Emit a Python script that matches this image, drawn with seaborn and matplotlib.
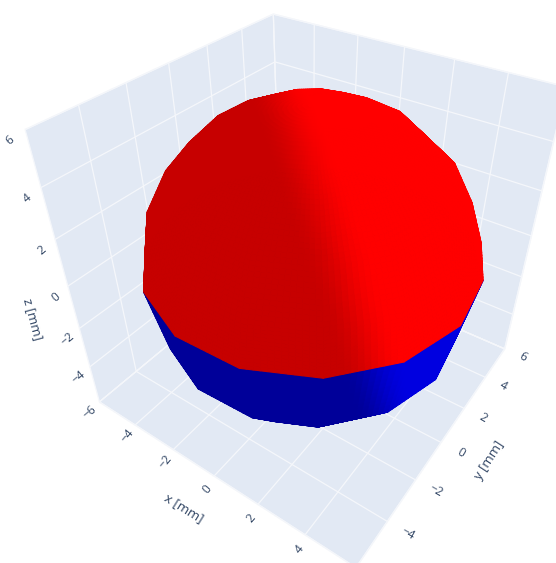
import numpy as np
import matplotlib
matplotlib.use("Agg")
import matplotlib.pyplot as plt
import seaborn as sns
from mpl_toolkits.mplot3d.art3d import Poly3DCollection
from mpl_toolkits.mplot3d import proj3d

sns.set_theme(style="white")
plt.rcParams['font.family'] = ['Open Sans', 'DejaVu Sans']
plt.rcParams['grid.color'] = '#f5f7fb'
plt.rcParams['grid.linewidth'] = 0.9
plt.rcParams['text.hinting'] = 'no_hinting'

# data
radius = 6.05
center = (0.05, 0.05, 0.0)
polar_deg = [0, 18, 36, 54, 72, 87, 115, 142, 165, 180]
azimuth_deg = [20, 44, 68, 92, 116, 140, 164, 188, 212, 236, 260, 284, 308, 332, 356, 380]
split_polar_deg = 87
x_ticks = [-6, -4, -2, 0, 2, 4, 6]
y_ticks = [-6, -4, -2, 0, 2, 4, 6]
z_ticks = [-6, -4, -2, 0, 2, 4, 6]
x_tick_shown = [-4, -2, 0, 2, 4]
y_tick_shown = [-4, -2, 0, 2, 4, 6]
z_tick_shown = [-6, -4, -2, 0, 2, 4, 6]
limits = (-6, 6)
ELEV, AZIM, FOCAL = 38, -55, 0.22
ink = '#2a3f5f'

fig = plt.figure(figsize=(5.56, 5.63), dpi=100, facecolor='white')
ax = fig.add_axes([0.003, -0.016, 1.08, 1.08], projection='3d', facecolor='white')
ax.set_proj_type('persp', focal_length=FOCAL)
ax.view_init(elev=ELEV, azim=AZIM)
ax.set_box_aspect((1, 1, 1), zoom=0.93)
ax.set_xlim(*limits, view_margin=0)
ax.set_ylim(*limits, view_margin=0)
ax.set_zlim(*limits, view_margin=0)
ax.set_xticks(x_ticks); ax.set_yticks(y_ticks); ax.set_zticks(z_ticks)
ax.set_xticklabels([]); ax.set_yticklabels([]); ax.set_zticklabels([])
for a in (ax.xaxis, ax.yaxis, ax.zaxis):
    a.set_pane_color('#e2e9f4')
    a.pane.set_edgecolor('#f2f5fa')
    a.line.set_color((1, 1, 1, 0))
    a.set_tick_params(color=(1, 1, 1, 0), length=0)
    a._axinfo['tick']['inward_factor'] = 0
    a._axinfo['tick']['outward_factor'] = 0

el, az = np.radians(ELEV), np.radians(AZIM)
right = np.array([-np.sin(az), np.cos(az), 0.0])
up = np.array([-np.cos(az) * np.sin(el), -np.sin(az) * np.sin(el), np.cos(el)])
light = right + 0.34 * up
light /= np.linalg.norm(light)


def shade(normal):
    n = normal / np.linalg.norm(normal)
    t = np.clip((n @ light + 0.05) / 0.32, 0, 1)
    return t * t * (3 - 2 * t)


def vertex(th, ph):
    return radius * np.array([np.sin(th) * np.cos(ph), np.sin(th) * np.sin(ph), np.cos(th)])


polys, cols = [], []
sub = 12
P = np.radians(polar_deg)
A = np.radians(azimuth_deg)
offset = np.array(center)
for i in range(len(P) - 1):
    for j in range(len(A) - 1):
        c00 = vertex(P[i], A[j]); c01 = vertex(P[i], A[j + 1])
        c10 = vertex(P[i + 1], A[j]); c11 = vertex(P[i + 1], A[j + 1])
        is_red = polar_deg[i + 1] <= split_polar_deg
        for a in range(sub):
            for b in range(sub):
                def pt(u, v):
                    return (1 - u) * (1 - v) * c00 + (1 - u) * v * c01 + u * (1 - v) * c10 + u * v * c11
                u0, u1, v0, v1 = a / sub, (a + 1) / sub, b / sub, (b + 1) / sub
                polys.append([pt(u0, v0) + offset, pt(u0, v1) + offset, pt(u1, v1) + offset, pt(u1, v0) + offset])
                s = shade(pt((u0 + u1) / 2, (v0 + v1) / 2))
                if is_red:
                    cols.append((0.78 + 0.22 * s, 0, 0))
                else:
                    cols.append((0, 0, 0.60 + 0.28 * s))

mesh = Poly3DCollection(polys, facecolors=cols, edgecolors=cols, linewidths=0.8)
ax.add_collection3d(mesh)

M = ax.get_proj()


def label(x, y, z, s, rot, size):
    px, py, _ = proj3d.proj_transform(x, y, z, M)
    ax.text2D(px, py, s, transform=ax.transData, rotation=rot, rotation_mode='anchor',
              ha='center', va='center', fontsize=size, color=ink, clip_on=False)


def tick_text(v):
    return str(v).replace('-', '\u2212')


fs = 8.6
for v in x_tick_shown:
    label(v + 0.15, -6.55, -6, tick_text(v), 50, fs)
for v in y_tick_shown:
    label(6.8, v, -6, tick_text(v), -30, fs)
for v in z_tick_shown:
    label(-6, -6.55, v - 0.1, tick_text(v), 40, fs)
label(0.0, -7.6, -6, 'x [mm]', -32, 9.5)
label(7.8, 0.3, -6, 'y [mm]', 57, 9.5)
label(-6, -7.6, -0.35, 'z [mm]', -75, 9.5)

fig.savefig('out.png', dpi=100)
